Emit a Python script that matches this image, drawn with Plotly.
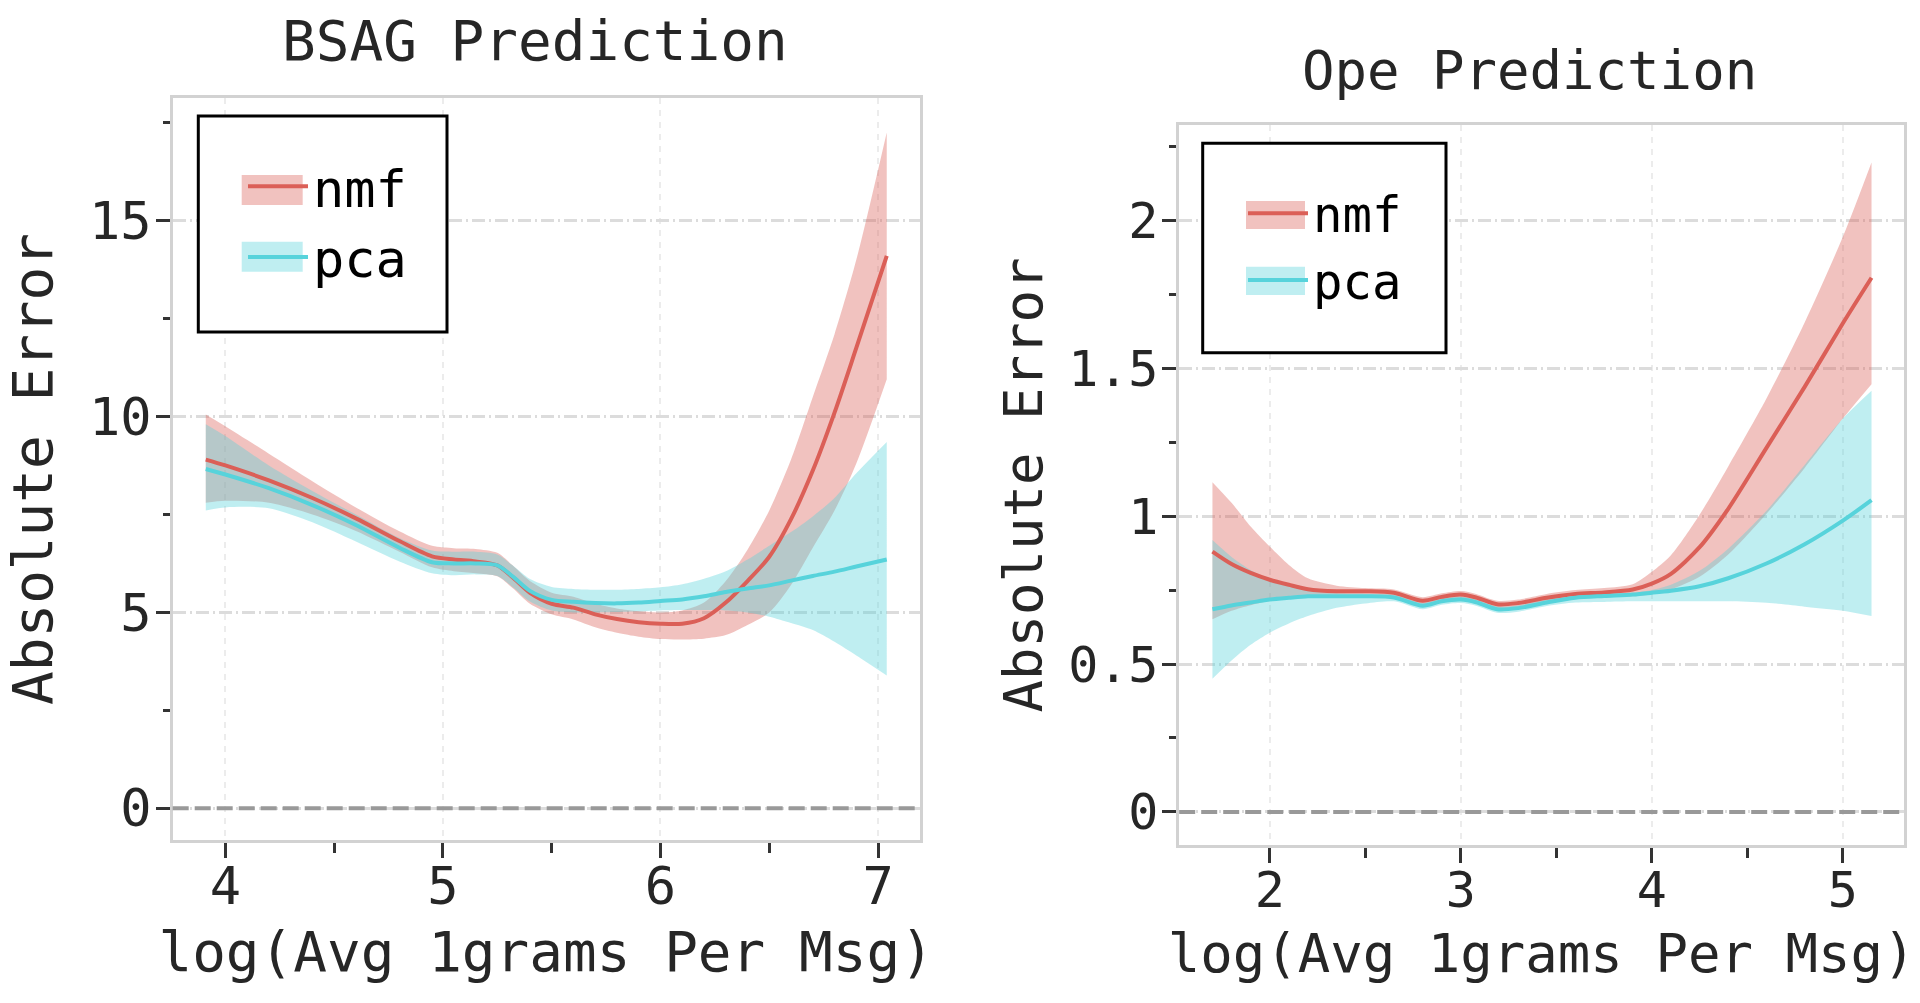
import plotly.graph_objects as go

W, H = 1920, 1003
FONT = "DejaVu Sans Mono"

# ---------------- data: BSAG prediction ----------------
bsag_x = [3.91, 4.0, 4.2, 4.4, 4.6, 4.8, 4.95, 5.05, 5.15, 5.25, 5.32, 5.4, 5.5, 5.6,
          5.7, 5.8, 5.9, 6.0, 6.1, 6.2, 6.3, 6.4, 6.5, 6.6, 6.7, 6.8, 6.9, 7.04]
bsag_nmf = [8.90, 8.75, 8.37, 7.92, 7.40, 6.82, 6.43, 6.35, 6.30, 6.20, 5.90, 5.50, 5.22, 5.12,
            4.95, 4.83, 4.75, 4.71, 4.71, 4.85, 5.25, 5.80, 6.42, 7.38, 8.62, 10.1, 11.75, 14.1]
bsag_nmf_hi = [10.05, 9.75, 9.05, 8.35, 7.68, 7.07, 6.70, 6.64, 6.62, 6.52, 6.20, 5.80, 5.50, 5.40,
               5.22, 5.10, 5.03, 5.00, 5.05, 5.25, 5.80, 6.60, 7.60, 8.90, 10.5, 12.1, 14.0, 17.25]
bsag_nmf_lo = [7.80, 7.85, 7.80, 7.50, 7.08, 6.55, 6.15, 6.05, 6.00, 5.92, 5.62, 5.22, 4.95, 4.82,
               4.62, 4.48, 4.38, 4.32, 4.31, 4.33, 4.42, 4.68, 5.00, 5.70, 6.65, 7.60, 8.80, 10.95]
bsag_pca = [8.66, 8.52, 8.17, 7.74, 7.23, 6.65, 6.28, 6.25, 6.25, 6.20, 5.92, 5.55, 5.32, 5.27,
            5.24, 5.23, 5.25, 5.29, 5.33, 5.41, 5.52, 5.61, 5.69, 5.81, 5.93, 6.04, 6.17, 6.35]
bsag_pca_hi = [9.80, 9.50, 8.75, 8.10, 7.50, 6.90, 6.58, 6.55, 6.55, 6.48, 6.20, 5.85, 5.65, 5.60,
               5.58, 5.58, 5.60, 5.64, 5.72, 5.86, 6.05, 6.35, 6.70, 7.05, 7.45, 7.92, 8.55, 9.35]
bsag_pca_lo = [7.60, 7.68, 7.66, 7.30, 6.81, 6.30, 6.00, 5.95, 5.97, 5.93, 5.65, 5.28, 5.05, 5.00,
               5.00, 5.01, 5.03, 5.05, 5.06, 5.06, 5.05, 5.00, 4.89, 4.73, 4.55, 4.25, 3.90, 3.39]

# ---------------- data: Ope prediction ----------------
ope_x = [1.70, 1.8, 1.9, 2.0, 2.1, 2.2, 2.35, 2.5, 2.65, 2.8, 2.9, 3.0, 3.08, 3.19,
         3.3, 3.45, 3.6, 3.75, 3.9, 4.0, 4.1, 4.25, 4.4, 4.6, 4.8, 5.0, 5.15]
ope_nmf = [0.880, 0.838, 0.808, 0.785, 0.768, 0.753, 0.746, 0.746, 0.741, 0.714, 0.727, 0.735, 0.725, 0.702,
           0.706, 0.724, 0.737, 0.742, 0.752, 0.772, 0.805, 0.895, 1.025, 1.231, 1.437, 1.652, 1.806]
ope_nmf_hi = [1.115, 1.045, 0.965, 0.897, 0.835, 0.790, 0.765, 0.757, 0.752, 0.726, 0.739, 0.747, 0.737, 0.714,
              0.718, 0.737, 0.750, 0.757, 0.770, 0.812, 0.868, 1.005, 1.168, 1.398, 1.655, 1.945, 2.196]
ope_nmf_lo = [0.651, 0.680, 0.699, 0.713, 0.722, 0.729, 0.734, 0.734, 0.729, 0.702, 0.715, 0.723, 0.713, 0.690,
              0.694, 0.712, 0.725, 0.728, 0.729, 0.736, 0.752, 0.795, 0.870, 1.008, 1.163, 1.330, 1.446]
ope_pca = [0.685, 0.698, 0.708, 0.718, 0.724, 0.729, 0.729, 0.729, 0.725, 0.697, 0.712, 0.718, 0.709, 0.685,
           0.689, 0.708, 0.724, 0.730, 0.735, 0.741, 0.748, 0.763, 0.790, 0.840, 0.905, 0.985, 1.054]
ope_pca_hi = [0.919, 0.862, 0.818, 0.785, 0.765, 0.753, 0.740, 0.738, 0.735, 0.707, 0.722, 0.728, 0.719, 0.695,
              0.699, 0.718, 0.734, 0.738, 0.741, 0.750, 0.768, 0.815, 0.890, 1.018, 1.173, 1.330, 1.424]
ope_pca_lo = [0.450, 0.512, 0.565, 0.606, 0.637, 0.662, 0.690, 0.705, 0.712, 0.685, 0.700, 0.706, 0.697, 0.673,
              0.677, 0.696, 0.708, 0.710, 0.712, 0.712, 0.712, 0.712, 0.712, 0.707, 0.694, 0.680, 0.662]

series_names = ["nmf", "pca"]
titles = ["BSAG Prediction", "Ope Prediction"]
x_label = "log(Avg 1grams Per Msg)"
y_label = "Absolute Error"
bsag_xticks = [4, 5, 6, 7]
bsag_yticks = [0, 5, 10, 15]
ope_xticks = [2, 3, 4, 5]
ope_yticks = [0, 0.5, 1, 1.5, 2]
ope_yticklabels = ["0", "0.5", "1", "1.5", "2"]

# ---------------- styling ----------------
LINE = {"nmf": "#db5f57", "pca": "#57d3db"}
BAND = {"nmf": "rgba(219,95,87,0.38)", "pca": "rgba(87,211,219,0.38)"}
TXT = "#262626"


def px_x(p):
    return p / W


def px_y(p):
    return 1 - p / H


fig = go.Figure()


def add_panel(xs, data, xa, ya, legend):
    for name in series_names:
        mean, lo, hi = data[name]
        fig.add_trace(go.Scatter(x=xs, y=lo, mode="lines", line=dict(width=0, shape="spline", smoothing=0.8),
                                 xaxis=xa, yaxis=ya, showlegend=False, hoverinfo="skip"))
        fig.add_trace(go.Scatter(x=xs, y=hi, mode="lines", line=dict(width=0, shape="spline", smoothing=0.8),
                                 fill="tonexty", fillcolor=BAND[name], xaxis=xa, yaxis=ya,
                                 showlegend=False, hoverinfo="skip"))
    for name in series_names:
        mean, lo, hi = data[name]
        fig.add_trace(go.Scatter(x=xs, y=mean, mode="lines", name=name, legendgroup=name,
                                 line=dict(color=LINE[name], width=4, shape="spline", smoothing=0.8),
                                 xaxis=xa, yaxis=ya, legend=legend))


add_panel(bsag_x, {"nmf": (bsag_nmf, bsag_nmf_lo, bsag_nmf_hi),
                   "pca": (bsag_pca, bsag_pca_lo, bsag_pca_hi)}, "x", "y", "legend")
add_panel(ope_x, {"nmf": (ope_nmf, ope_nmf_lo, ope_nmf_hi),
                  "pca": (ope_pca, ope_pca_lo, ope_pca_hi)}, "x2", "y2", "legend2")

GRID_H = dict(showgrid=True, gridcolor="#dcdcdc", gridwidth=2.5, griddash="13px,4px,2px,4px")
GRID_V = dict(showgrid=True, gridcolor="#ececec", gridwidth=1.5, griddash="6px,6px")
COMMON = dict(showline=True, mirror=True, linecolor="#d2d2d2", linewidth=2.5, zeroline=False,
              ticks="outside", tickcolor="#333333", tickwidth=2.5)


def xaxis(domain, rng, tickvals, minor_dtick, tsize, lsize, standoff, anchor):
    return dict(domain=domain, range=rng, tickvals=tickvals, ticklen=15, anchor=anchor,
                tickfont=dict(family=FONT, size=tsize, color=TXT), ticklabelstandoff=-16,
                minor=dict(ticks="outside", ticklen=10, tickcolor="#333333", tickwidth=2.5,
                           dtick=minor_dtick, tick0=0, showgrid=False),
                title=dict(text=x_label, font=dict(family=FONT, size=lsize, color=TXT), standoff=standoff),
                **GRID_V, **COMMON)


def yaxis(domain, rng, tickvals, ticktext, minor_dtick, tsize, lsize, standoff, anchor):
    return dict(domain=domain, range=rng, tickvals=tickvals, ticktext=ticktext, ticklen=14, anchor=anchor,
                tickfont=dict(family=FONT, size=tsize, color=TXT), ticklabelstandoff=-6,
                minor=dict(ticks="outside", ticklen=7, tickcolor="#333333", tickwidth=2.5,
                           dtick=minor_dtick, tick0=0, showgrid=False),
                title=dict(text=y_label, font=dict(family=FONT, size=lsize, color=TXT), standoff=standoff),
                **GRID_H, **COMMON)


def legend_style(x, y, size, gap):
    return dict(x=px_x(x), y=px_y(y), xanchor="left", yanchor="top", bgcolor="rgba(0,0,0,0)",
                borderwidth=0, itemwidth=60, traceorder="normal", tracegroupgap=gap,
                font=dict(family=FONT, size=size, color="black"))


fig.update_layout(
    width=W, height=H, margin=dict(l=0, r=0, t=0, b=0),
    paper_bgcolor="white", plot_bgcolor="white",
    font=dict(family=FONT, color=TXT),
    xaxis=xaxis([px_x(172.7), px_x(919.6)], [3.758, 7.191], bsag_xticks, 0.5, 52, 56, 17, "y"),
    yaxis=yaxis([px_y(840), px_y(98)], [-0.81, 18.13], bsag_yticks, [str(v) for v in bsag_yticks],
                2.5, 52, 56, 22, "x"),
    xaxis2=xaxis([px_x(1179.2), px_x(1904)], [1.526, 5.32], ope_xticks, 0.5, 50, 54, 17, "y2"),
    yaxis2=yaxis([px_y(845), px_y(124.9)], [-0.112, 2.323], ope_yticks, ope_yticklabels,
                 0.25, 50, 54, 9, "x2"),
    legend=legend_style(243, 146, 52, 0),
    legend2=legend_style(1243, 175, 49, 4),
)

# dashed zero reference lines
for xa, ya in (("x", "y"), ("x2", "y2")):
    fig.add_shape(type="line", xref=f"{xa} domain", x0=0, x1=1, yref=ya, y0=0, y1=0,
                  line=dict(color="#999999", width=4, dash="16px,6px"), layer="above")

# legend frames and band patches
legend_boxes = [((198.3, 116, 447, 332), [(241.7, 175, 302.7, 205), (241.7, 241.7, 302.7, 271.7)]),
                ((1202.7, 143.3, 1446, 352.7), [(1246, 201, 1305, 229), (1246, 266.7, 1305, 295)])]
for (bx0, by0, bx1, by1), patches in legend_boxes:
    fig.add_shape(type="rect", xref="paper", yref="paper", x0=px_x(bx0), x1=px_x(bx1),
                  y0=px_y(by1), y1=px_y(by0), fillcolor="white",
                  line=dict(color="black", width=3), layer="above")
    for name, (px0, py0, px1, py1) in zip(series_names, patches):
        fig.add_shape(type="rect", xref="paper", yref="paper", x0=px_x(px0), x1=px_x(px1),
                      y0=px_y(py1), y1=px_y(py0), fillcolor=BAND[name], line=dict(width=0), layer="above")

# subplot titles
for text, cx, cy, size in ((titles[0], 535, 41, 56), (titles[1], 1529, 70, 54)):
    fig.add_annotation(text=text, x=px_x(cx), y=px_y(cy), xref="paper", yref="paper",
                       showarrow=False, font=dict(family=FONT, size=size, color=TXT),
                       xanchor="center", yanchor="middle")

fig.write_html("out.html", config={"displayModeBar": False},
               post_script="document.body.style.margin='0';document.body.style.overflow='hidden';")
